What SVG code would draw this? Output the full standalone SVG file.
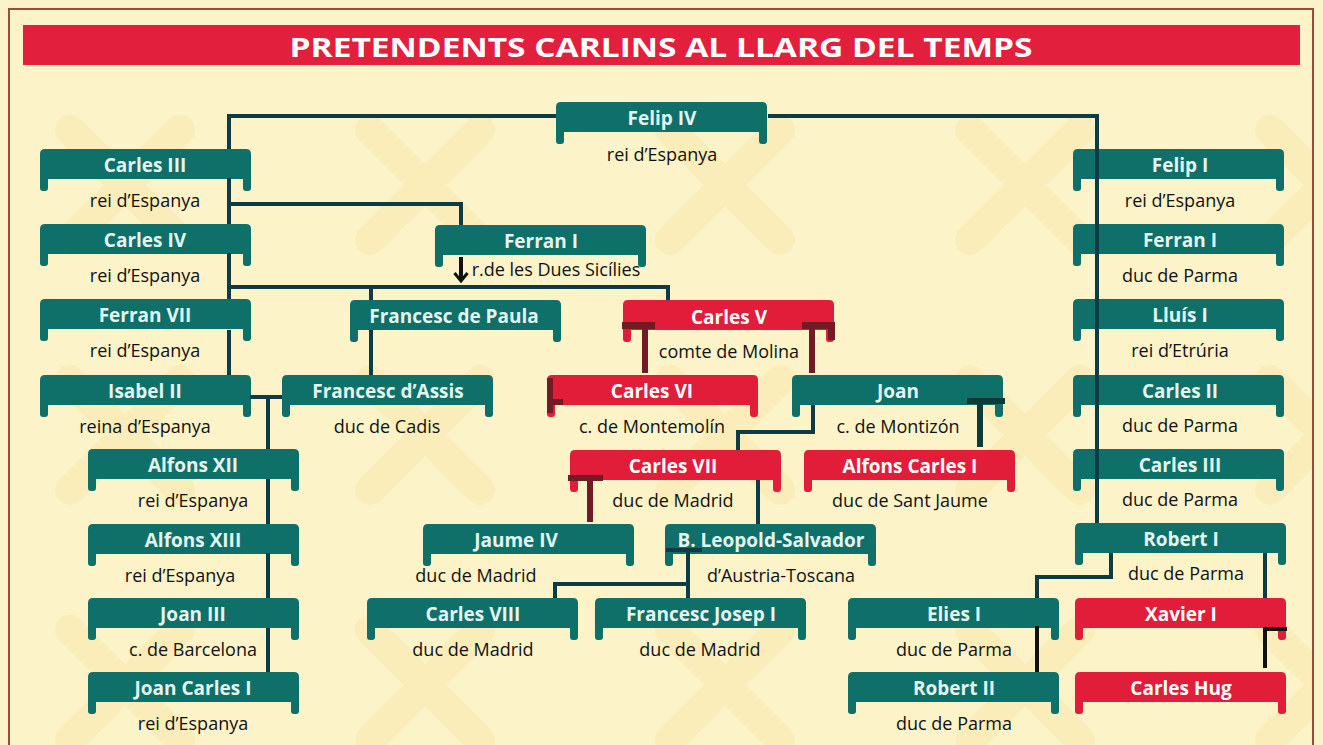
<svg xmlns="http://www.w3.org/2000/svg" xmlns:xlink="http://www.w3.org/1999/xlink" width="1323" height="745" viewBox="0 0 1323 745">
<style>
.teal{fill:#0f6f69}
.red{fill:#e11d3a}
.t{font-family:"Open Sans","Noto Sans","Liberation Sans",sans-serif;font-weight:bold;font-size:19px;fill:#e4f4ee;text-anchor:middle}
.tr{fill:#ffffff}
.s{font-family:"Open Sans","Noto Sans","Liberation Sans",sans-serif;font-size:18px;fill:#111;text-anchor:middle}
.c{fill:none;stroke:#0d3b46;stroke-width:4}
.k{fill:none;stroke:#111;stroke-width:4}
.dr{fill:#6f1c26}
.dt{fill:#0b3c3a}
</style>
<defs>
<path id="ban" d="M0 5 Q0 0 5 0 H206 Q211 0 211 5 V39 Q211 42 208 42 H206 Q203 42 203 39 V30 H8 V39 Q8 42 5 42 H3 Q0 42 0 39 Z"/>
<pattern id="xs" width="300" height="250" patternUnits="userSpaceOnUse" x="-20" y="40">
<path d="M90 90 L200 200 M200 90 L90 200" stroke="#f4d06a" stroke-width="30" stroke-linecap="round" opacity="0.17"/>
</pattern>
<marker id="arr" markerWidth="12" markerHeight="16" refX="10" refY="8" orient="auto" markerUnits="userSpaceOnUse" viewBox="0 0 12 16">
<path d="M2 1.5 L10 8 L2 14.5" fill="none" stroke="#111" stroke-width="3"/>
</marker>
</defs>
<rect x="0" y="0" width="1323" height="745" fill="#fcf3c9"/>
<rect x="8" y="70" width="1305" height="675" fill="url(#xs)"/>
<rect x="9" y="9" width="1304" height="745" fill="none" stroke="#9c4a3c" stroke-width="2"/>
<g id="title">
<rect x="23" y="25" width="1277" height="40" fill="#e2203d"/>
<text x="661" y="57" font-family="'Open Sans','Noto Sans','Liberation Sans',sans-serif" font-weight="bold" font-size="27" fill="#fff" text-anchor="middle" textLength="743" lengthAdjust="spacingAndGlyphs">PRETENDENTS CARLINS AL LLARG DEL TEMPS</text>
</g>
<g id="nodes">
<g id="felip-iv"><use href="#ban" x="556" y="102" class="teal"/><text class="t" x="662" y="125">Felip IV</text><text class="s" x="662" y="161">rei d’Espanya</text></g>
<g id="carles-iii"><use href="#ban" x="40" y="149" class="teal"/><text class="t" x="145" y="172">Carles III</text><text class="s" x="145" y="207">rei d’Espanya</text></g>
<g id="carles-iv"><use href="#ban" x="40" y="224" class="teal"/><text class="t" x="145" y="247">Carles IV</text><text class="s" x="145" y="282">rei d’Espanya</text></g>
<g id="ferran-vii"><use href="#ban" x="40" y="299" class="teal"/><text class="t" x="145" y="322">Ferran VII</text><text class="s" x="145" y="357">rei d’Espanya</text></g>
<g id="isabel-ii"><use href="#ban" x="40" y="375" class="teal"/><text class="t" x="145" y="398">Isabel II</text><text class="s" x="145" y="433">reina d’Espanya</text></g>
<g id="alfons-xii"><use href="#ban" x="88" y="449" class="teal"/><text class="t" x="193" y="472">Alfons XII</text><text class="s" x="193" y="507">rei d’Espanya</text></g>
<g id="alfons-xiii"><use href="#ban" x="88" y="524" class="teal"/><text class="t" x="193" y="547">Alfons XIII</text><text class="s" x="180" y="582">rei d’Espanya</text></g>
<g id="joan-iii"><use href="#ban" x="88" y="598" class="teal"/><text class="t" x="193" y="621">Joan III</text><text class="s" x="193" y="656">c. de Barcelona</text></g>
<g id="joan-carles-i"><use href="#ban" x="88" y="672" class="teal"/><text class="t" x="193" y="695">Joan Carles I</text><text class="s" x="193" y="730">rei d’Espanya</text></g>
<g id="ferran-i-sicilies"><use href="#ban" x="435" y="225" class="teal"/><text class="t" x="541" y="248">Ferran I</text><text class="s" x="556" y="276" font-size="15.5">r.de les Dues Sicílies</text></g>
<g id="francesc-de-paula"><use href="#ban" x="350" y="300" class="teal"/><text class="t" x="454" y="323">Francesc de Paula</text></g>
<g id="carles-v"><use href="#ban" x="623" y="300" class="red"/><text class="t tr" x="729" y="324">Carles V</text><text class="s" x="729" y="358">comte de Molina</text></g>
<g id="francesc-assis"><use href="#ban" x="282" y="375" class="teal"/><text class="t" x="388" y="398">Francesc d’Assis</text><text class="s" x="387" y="433">duc de Cadis</text></g>
<g id="carles-vi"><use href="#ban" x="547" y="375" class="red"/><text class="t tr" x="652" y="398">Carles VI</text><text class="s" x="652" y="433">c. de Montemolín</text></g>
<g id="joan"><use href="#ban" x="792" y="375" class="teal"/><text class="t" x="898" y="398">Joan</text><text class="s" x="898" y="433">c. de Montizón</text></g>
<g id="carles-vii"><use href="#ban" x="570" y="450" class="red"/><text class="t tr" x="673" y="473">Carles VII</text><text class="s" x="673" y="507">duc de Madrid</text></g>
<g id="alfons-carles-i"><use href="#ban" x="804" y="450" class="red"/><text class="t tr" x="910" y="473">Alfons Carles I</text><text class="s" x="910" y="507">duc de Sant Jaume</text></g>
<g id="jaume-iv"><use href="#ban" x="423" y="524" class="teal"/><text class="t" x="516" y="547">Jaume IV</text><text class="s" x="476" y="582">duc de Madrid</text></g>
<g id="leopold-salvador"><use href="#ban" x="665" y="524" class="teal"/><text class="t" x="771" y="547">B. Leopold-Salvador</text><text class="s" x="781" y="582">d’Austria-Toscana</text></g>
<g id="carles-viii"><use href="#ban" x="367" y="598" class="teal"/><text class="t" x="473" y="621">Carles VIII</text><text class="s" x="473" y="656">duc de Madrid</text></g>
<g id="francesc-josep-i"><use href="#ban" x="595" y="598" class="teal"/><text class="t" x="701" y="621">Francesc Josep I</text><text class="s" x="700" y="656">duc de Madrid</text></g>
<g id="elies-i"><use href="#ban" x="848" y="598" class="teal"/><text class="t" x="954" y="621">Elies I</text><text class="s" x="954" y="656">duc de Parma</text></g>
<g id="robert-ii"><use href="#ban" x="848" y="672" class="teal"/><text class="t" x="954" y="695">Robert II</text><text class="s" x="954" y="730">duc de Parma</text></g>
<g id="xavier-i"><use href="#ban" x="1075" y="598" class="red"/><text class="t tr" x="1181" y="621">Xavier I</text></g>
<g id="carles-hug"><use href="#ban" x="1075" y="672" class="red"/><text class="t tr" x="1181" y="695">Carles Hug</text></g>
<g id="felip-i"><use href="#ban" x="1073" y="149" class="teal"/><text class="t" x="1180" y="172">Felip I</text><text class="s" x="1180" y="207">rei d’Espanya</text></g>
<g id="ferran-i-parma"><use href="#ban" x="1073" y="224" class="teal"/><text class="t" x="1180" y="247">Ferran I</text><text class="s" x="1180" y="282">duc de Parma</text></g>
<g id="lluis-i"><use href="#ban" x="1073" y="299" class="teal"/><text class="t" x="1180" y="322">Lluís I</text><text class="s" x="1180" y="357">rei d’Etrúria</text></g>
<g id="carles-ii-parma"><use href="#ban" x="1073" y="375" class="teal"/><text class="t" x="1180" y="398">Carles II</text><text class="s" x="1180" y="432">duc de Parma</text></g>
<g id="carles-iii-parma"><use href="#ban" x="1073" y="449" class="teal"/><text class="t" x="1180" y="472">Carles III</text><text class="s" x="1180" y="506">duc de Parma</text></g>
<g id="robert-i"><use href="#ban" x="1075" y="523" class="teal"/><text class="t" x="1181" y="546">Robert I</text><text class="s" x="1186" y="580">duc de Parma</text></g>
</g>
<g id="connectors">
<path class="c" d="M229 149 V116 H556"/>
<path class="c" d="M768 116 H1097 V523"/>
<path class="c" d="M229 178 V224"/>
<path class="c" d="M229 204 H461 V225"/>
<path class="c" d="M229 253 V299"/>
<path class="c" d="M229 287 H668 V300"/>
<path class="c" d="M371 287 V300"/>
<path class="c" d="M371 330 V375"/>
<path class="c" d="M229 330 V375"/>
<path class="c" d="M250 397 H282"/>
<path class="c" d="M268 397 V449 M268 479 V524 M268 553 V598 M268 628 V672"/>
<path class="c" d="M813 405 V432 H738 V450"/>
<path class="c" d="M758 480 V524"/>
<path class="c" d="M555 598 V584 H688"/>
<path class="c" d="M688 549 V598"/>
<path class="c" d="M666 550 H702" stroke-width="6"/>
<path class="c" d="M1111 553 V577 H1037 V598"/>
<path class="c" d="M1265 553 V598"/>
<path class="k" d="M1037 626 V672"/>
<path class="k" d="M1265 668 V629 H1287"/>
<path class="k" d="M461 257 V281" stroke-width="3" marker-end="url(#arr)"/>
<rect class="dr" x="622" y="322" width="33" height="7"/>
<rect class="dr" x="642" y="322" width="6" height="51"/>
<rect class="dr" x="802" y="322" width="33" height="7"/>
<rect class="dr" x="809" y="322" width="6" height="51"/>
<rect class="dr" x="828" y="322" width="7" height="18"/>
<path class="dr" d="M547 378 H553 V399 H563 V405 H553 V413 H547 Z"/>
<rect class="dt" x="967" y="398" width="38" height="6"/>
<rect class="dt" x="977" y="398" width="6" height="49"/>
<rect class="dr" x="568" y="475" width="35" height="6"/>
<rect class="dr" x="587" y="475" width="6" height="47"/>
</g>
</svg>
